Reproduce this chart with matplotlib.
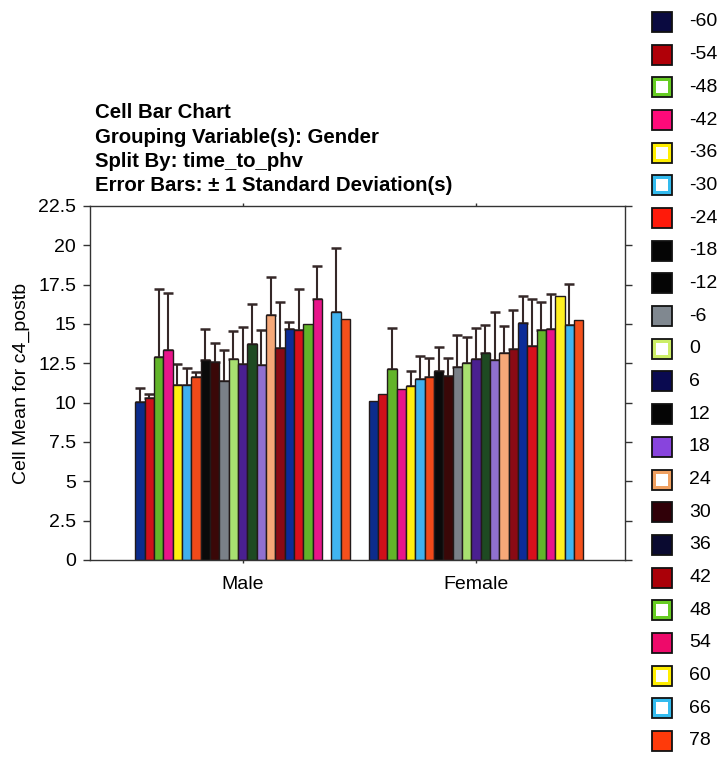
import numpy as np
import matplotlib
matplotlib.use("Agg")
import matplotlib.pyplot as plt
from matplotlib.patches import Rectangle

plt.rcParams['font.family'] = ['Liberation Sans', 'DejaVu Sans']

# ---- data -------------------------------------------------------------
groups = ["Male", "Female"]
time_to_phv = ["-60", "-54", "-48", "-42", "-36", "-30", "-24", "-18", "-12", "-6",
               "0", "6", "12", "18", "24", "30", "36", "42", "48", "54", "60", "66", "78"]

male_mean = [10.03, 10.31, 12.91, 13.37, 11.11, 11.11, 11.62, 12.69, 12.59, 11.39,
             12.78, 12.44, 13.73, 12.42, 15.57, 13.45, 14.66, 14.64, 14.98, 16.60,
             np.nan, 15.78, 15.32]
male_sd = [0.89, 0.27, 4.33, 3.63, 1.35, 1.08, 0.36, 1.99, 1.20, 1.96,
           1.77, 2.37, 2.56, 2.22, 2.43, 2.94, 0.47, 2.58, np.nan, 2.09,
           np.nan, 4.06, np.nan]

female_mean = [10.10, 10.56, 12.15, 10.84, 11.05, 11.53, 11.64, 12.04, 11.68, 12.25,
               12.50, 12.80, 13.18, 12.69, 13.16, 13.42, 15.06, 13.62, 14.59, 14.70,
               16.75, 14.91, 15.27]
female_sd = [np.nan, np.nan, 2.59, np.nan, 0.95, 1.46, 1.20, 1.50, 1.16, 2.03,
             1.65, 1.94, 1.77, 3.07, 1.69, 2.44, 1.73, 2.96, 1.84, 2.22,
             np.nan, 2.64, np.nan]

y_ticks = [0, 2.5, 5, 7.5, 10, 12.5, 15, 17.5, 20, 22.5]
y_tick_labels = ["0", "2.5", "5", "7.5", "10", "12.5", "15", "17.5", "20", "22.5"]

# ---- styles -----------------------------------------------------------
bar_colors = ["#0c2c8c", "#d0101a", "#62b42a", "#e8158a", "#ffee10", "#3fb0ee",
              "#f04a1a", "#0a0a0a", "#3a0808", "#7a8088", "#a8e070", "#4a2090",
              "#1e4a22", "#9070d0", "#f6a878", "#8a0a14", "#0c2c98", "#d8101c",
              "#62b42a", "#e8158a", "#fff020", "#40b4f0", "#f4501c"]

# legend swatches: (fill, ring) -- ring is None for solid swatches
legend_fill = ["#0a0a40", "#b00008", "white", "#ff0a7a", "white", "white",
               "#ff1a0a", "#050505", "#050505", "#808890", "white", "#0a0a50",
               "#050505", "#8844dd", "white", "#300008", "#0a0a30", "#aa0008",
               "white", "#ee0a6a", "white", "white", "#ff3a0a"]
legend_ring = [None, None, "#66cc22", None, "#ffee00", "#33bbee",
               None, None, None, None, "#ccee66", None,
               None, None, "#f0a060", None, None, None,
               "#66cc22", None, "#ffee00", "#33bbee", None]

W, H = 724, 762
fig = plt.figure(figsize=(W / 100, H / 100), dpi=100)
ax = fig.add_axes([90 / W, 1 - 560 / H, (625 - 90) / W, (560 - 206) / H])

n = len(time_to_phv)
bar_w = 0.04
centers = np.arange(len(groups))
err_color = "#352828"

for i in range(n):
    x = centers + (i - (n - 1) / 2) * bar_w
    means = np.array([male_mean[i], female_mean[i]])
    sds = np.array([male_sd[i], female_sd[i]])
    ok = ~np.isnan(means)
    ax.bar(x[ok], means[ok], width=bar_w, color=bar_colors[i],
           edgecolor="#221a1a", linewidth=1.0, zorder=2)
    e = ok & ~np.isnan(sds)
    if e.any():
        ax.errorbar(x[e], means[e], yerr=[np.zeros(e.sum()), sds[e]], fmt="none",
                    ecolor=err_color, elinewidth=1.5, capsize=3.5, capthick=1.8,
                    zorder=1)

ax.set_xlim(-0.654, 1.639)
ax.set_ylim(0, 22.5)
ax.set_yticks(y_ticks)
ax.set_yticklabels(y_tick_labels)
ax.set_xticks(centers)
ax.set_xticklabels(groups)
ax.set_ylabel("Cell Mean for c4_postb", fontsize=14, labelpad=6)

for s in ax.spines.values():
    s.set_color("#333333")
    s.set_linewidth(1.0)

ax.tick_params(axis="y", which="both", direction="out", length=5, width=1,
               color="#333333", labelsize=14, pad=5, right=True, labelright=False)
ax.tick_params(axis="x", direction="out", length=2.5, width=1, color="#333333",
               labelsize=14, pad=9, top=True, labeltop=False)

# title block
title_lines = ["Cell Bar Chart",
               "Grouping Variable(s): Gender",
               "Split By: time_to_phv",
               "Error Bars: \u00b1 1 Standard Deviation(s)"]
for k, line in enumerate(title_lines):
    fig.text(95 / W, 1 - (113 + 24.3 * k) / H, line, fontsize=14.7,
             fontweight="bold", ha="left", va="center")

# legend column on the right
sw = 20
x0 = 652
row0, step = 22, 32.68
for i, lab in enumerate(time_to_phv):
    yc = row0 + i * step
    ybot = 1 - (yc + sw / 2) / H
    if legend_ring[i] is None:
        fig.patches.append(Rectangle((x0 / W, ybot), sw / W, sw / H,
                                     transform=fig.transFigure,
                                     facecolor=legend_fill[i],
                                     edgecolor="#111111", linewidth=1.3))
    else:
        fig.patches.append(Rectangle((x0 / W, ybot), sw / W, sw / H,
                                     transform=fig.transFigure,
                                     facecolor=legend_ring[i],
                                     edgecolor="#111111", linewidth=1.3))
        inset = 4.0
        fig.patches.append(Rectangle(((x0 + inset) / W, ybot + inset / H),
                                     (sw - 2 * inset) / W, (sw - 2 * inset) / H,
                                     transform=fig.transFigure,
                                     facecolor="white", edgecolor="none"))
    fig.text(689 / W, 1 - yc / H, lab, fontsize=14, ha="left", va="center")

fig.savefig("out.png", dpi=100, facecolor="white")
